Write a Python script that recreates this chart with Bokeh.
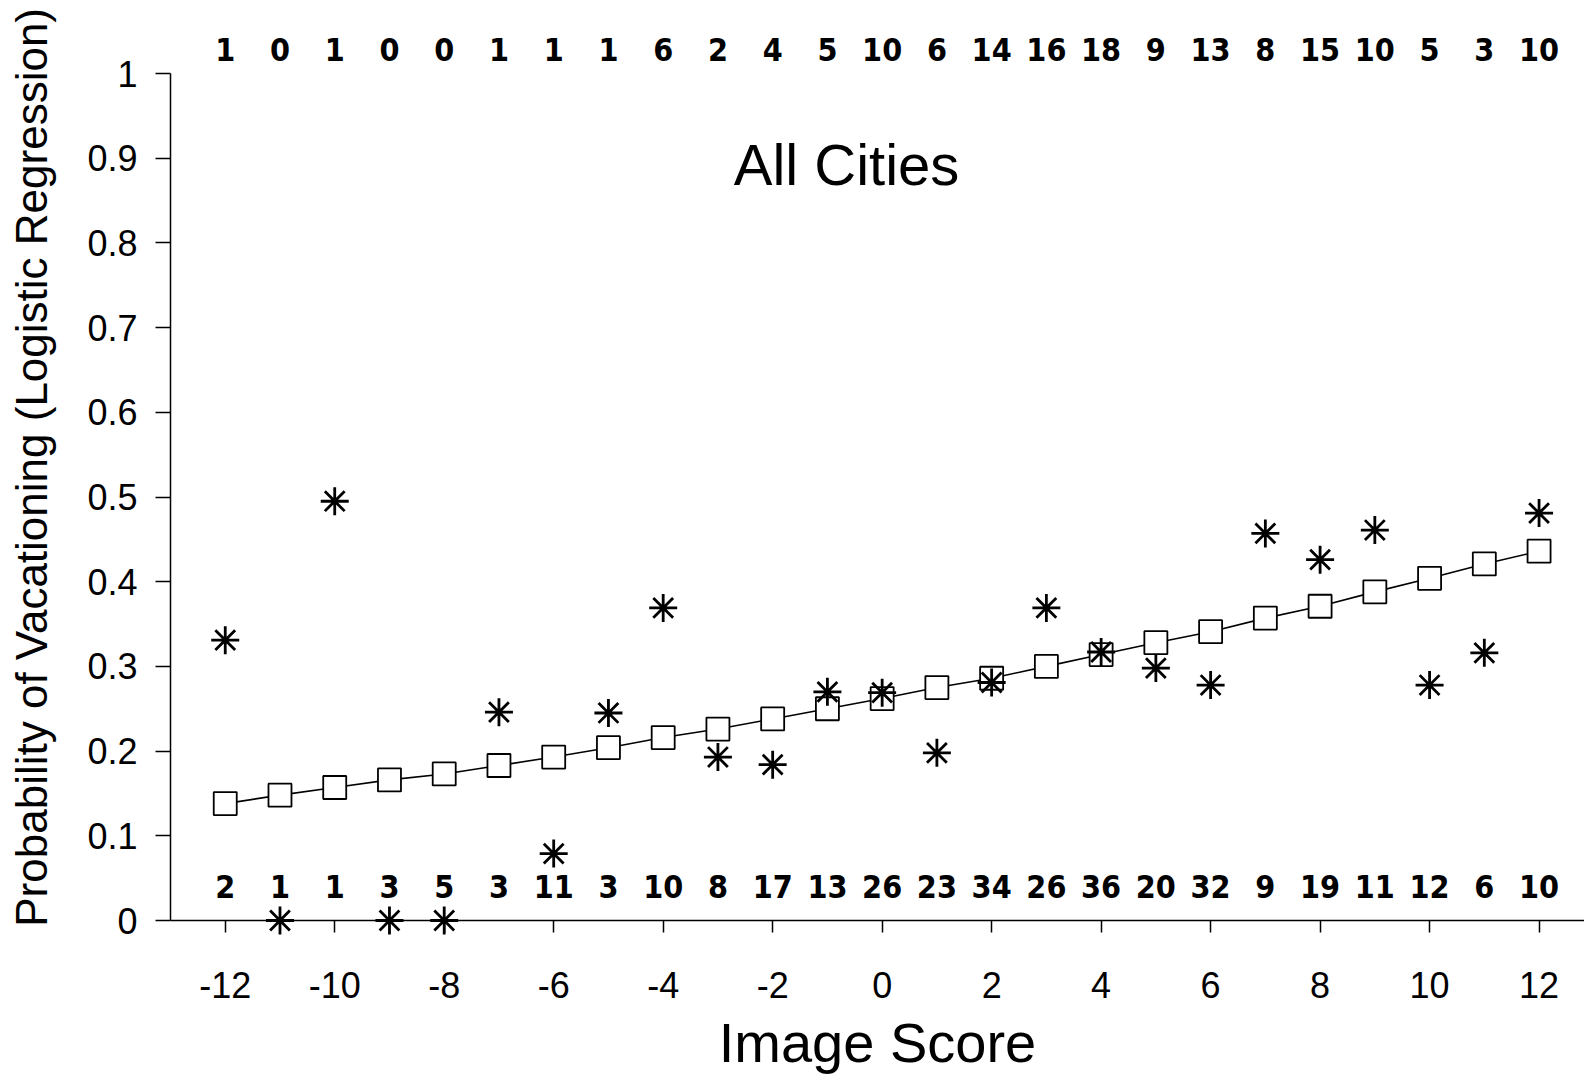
import math
from bokeh.plotting import figure
from bokeh.models import (ColumnDataSource, LinearAxis, FixedTicker, Range1d)
from bokeh.core.properties import value
from bokeh.embed import file_html
from bokeh.resources import INLINE

# ---- data ----
scores = [-12, -11, -10, -9, -8, -7, -6, -5, -4, -3, -2, -1, 0,
          1, 2, 3, 4, 5, 6, 7, 8, 9, 10, 11, 12]
n_yes = [1, 0, 1, 0, 0, 1, 1, 1, 6, 2, 4, 5, 10,
         6, 14, 16, 18, 9, 13, 8, 15, 10, 5, 3, 10]
n_no = [2, 1, 1, 3, 5, 3, 11, 3, 10, 8, 17, 13, 26,
        23, 34, 26, 36, 20, 32, 9, 19, 11, 12, 6, 10]
observed = [0.331, 0.0, 0.495, 0.0, 0.0, 0.246, 0.079, 0.245, 0.369, 0.193,
            0.184, 0.270, 0.269, 0.198, 0.281, 0.369, 0.317, 0.298, 0.278,
            0.457, 0.426, 0.461, 0.278, 0.316, 0.481]
fitted = [0.138, 0.148, 0.157, 0.166, 0.173, 0.183, 0.193, 0.204, 0.216,
          0.226, 0.238, 0.250, 0.262, 0.275, 0.286, 0.300, 0.314, 0.328,
          0.341, 0.357, 0.371, 0.388, 0.404, 0.421, 0.436]
x_ticks = [-12, -10, -8, -6, -4, -2, 0, 2, 4, 6, 8, 10, 12]
y_ticks = [0, 0.1, 0.2, 0.3, 0.4, 0.5, 0.6, 0.7, 0.8, 0.9, 1]
y_tick_labels = ["0", "0.1", "0.2", "0.3", "0.4", "0.5", "0.6", "0.7", "0.8", "0.9", "1"]
title_text = "All Cities"
x_label = "Image Score"
y_label = "Probability of Vacationing (Logistic Regression)"
count_label_y = 0.04

FONT = "Liberation Sans"
CFONT = "DejaVu Sans Condensed, Liberation Sans"

p = figure(width=1584, height=1076, output_backend="svg", toolbar_location=None,
           x_range=Range1d(-13, 12.83), y_range=Range1d(0, 1),
           min_border_left=170, min_border_right=0, min_border_top=73,
           min_border_bottom=155, x_axis_location=None, y_axis_location=None)
p.outline_line_color = None
p.grid.visible = False
p.background_fill_color = "white"
p.border_fill_color = "white"

# bottom axis
xa = LinearAxis(ticker=FixedTicker(ticks=x_ticks),
                major_label_overrides={t: str(t) for t in x_ticks})
xa.axis_label = x_label
xa.axis_label_text_font = FONT
xa.axis_label_text_font_size = "56px"
xa.axis_label_text_font_style = "normal"
xa.axis_label_text_color = "black"
xa.axis_label_standoff = 10
xa.major_label_text_font = FONT
xa.major_label_text_font_size = "36px"
xa.major_label_text_color = "black"
xa.major_label_standoff = 39
xa.major_tick_in = 0
xa.major_tick_out = 12
xa.minor_tick_line_color = None
xa.axis_line_width = 1.5
xa.major_tick_line_width = 1.5
p.add_layout(xa, "below")

# left axis
ya = LinearAxis(ticker=FixedTicker(ticks=y_ticks),
                major_label_overrides=dict(zip(y_ticks, y_tick_labels)))
ya.major_label_text_font = FONT
ya.major_label_text_font_size = "36px"
ya.major_label_text_color = "black"
ya.major_label_standoff = 18
ya.major_label_orientation = "horizontal"
ya.major_tick_in = 0
ya.major_tick_out = 15
ya.minor_tick_line_color = None
ya.axis_line_width = 1.5
ya.major_tick_line_width = 1.5
p.add_layout(ya, "left")

# top axis carrying the counts of vacationers
ta = LinearAxis(ticker=FixedTicker(ticks=scores),
                major_label_overrides={s: str(c) for s, c in zip(scores, n_yes)})
ta.axis_line_color = None
ta.major_tick_line_color = None
ta.minor_tick_line_color = None
ta.major_label_text_font = CFONT
ta.major_label_text_font_style = "bold"
ta.major_label_text_font_size = "32px"
ta.major_label_text_color = "black"
ta.major_label_standoff = 7
p.add_layout(ta, "above")

src = ColumnDataSource(dict(x=scores, obs=observed, fit=fitted,
                            no=[str(v) for v in n_no],
                            ly=[count_label_y] * len(scores)))

p.text(x="x", y="ly", text="no", source=src, text_font=value(CFONT),
       text_font_style="bold", text_font_size="32px", text_align="center",
       text_baseline="middle", text_color="black")

p.line(x="x", y="fit", source=src, line_color="black", line_width=1.6)
p.scatter(x="x", y="fit", source=src, marker="square", size=23,
          fill_color="white", line_color="black", line_width=1.8)
p.scatter(x="x", y="obs", source=src, marker="asterisk", size=28,
          line_color="black", line_width=2.8, level="overlay")

p.text(x=[-0.65], y=[0.893], text=[title_text], text_font=value(FONT),
       text_font_size="58px", text_align="center", text_baseline="alphabetic",
       text_color="black")

# y-axis title, placed as in the reference (a little above the frame centre)
p.text(x=[-15.54], y=[0.535], text=[y_label], angle=math.pi / 2,
       text_font=value(FONT), text_font_size="44px", text_align="center",
       text_baseline="middle", text_color="black", level="overlay")

open("out.html", "w").write(file_html(p, INLINE))
